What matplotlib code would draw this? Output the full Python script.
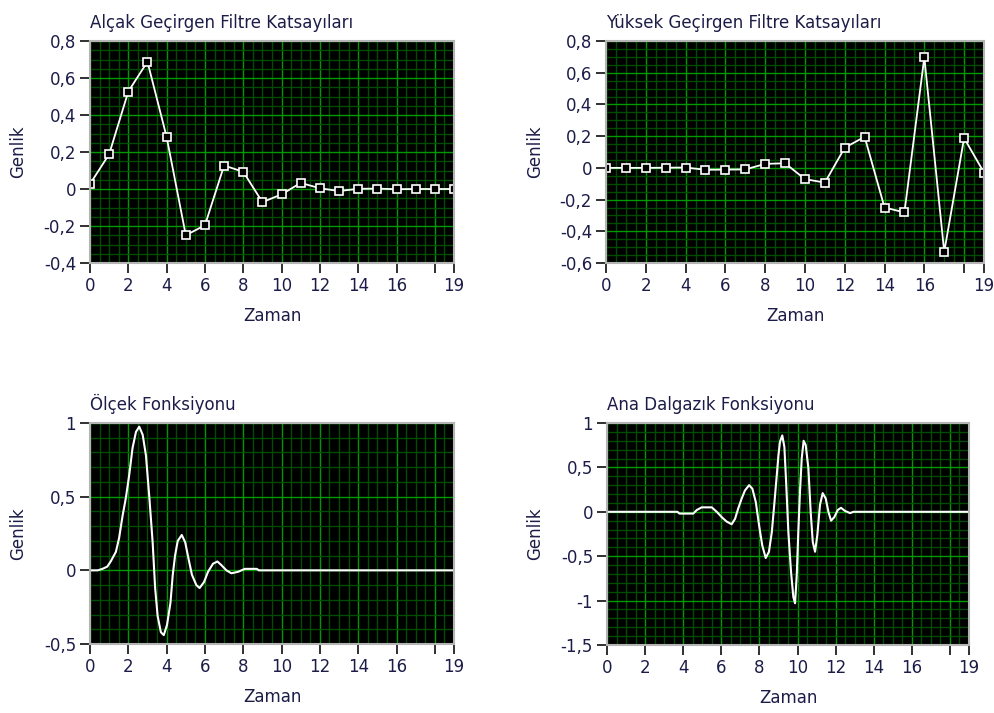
"""db10 wavelet panels in a LabVIEW-like look: filter taps, scaling and wavelet functions."""
import numpy as np

import matplotlib

matplotlib.use("Agg")
import matplotlib.pyplot as plt
from matplotlib.ticker import FixedLocator, FuncFormatter, MultipleLocator

OUT = "out.png"
TXT = "#1c1c48"
MAJ, MIN = "#009a00", "#004c00"
FS = 12

# filter taps (index 0..19)
taps = np.arange(20)
lowpass = [0.027, 0.188, 0.527, 0.688, 0.281, -0.250, -0.196, 0.127, 0.093, -0.071,
           -0.029, 0.033, 0.004, -0.011, 0.001, 0.002, -0.001, 0.0, 0.0, 0.0]
highpass = [0.0, 0.0, 0.0, 0.001, 0.002, -0.012, -0.011, -0.010, 0.025, 0.029,
            -0.071, -0.093, 0.127, 0.196, -0.250, -0.281, 0.697, -0.530, 0.188, -0.030]

# scaling function
phi_t = [0, 0.4, 0.65, 0.9, 1.08, 1.35, 1.52, 1.7, 1.87, 2.05, 2.22, 2.4, 2.57, 2.75,
         2.92, 3.1, 3.27, 3.4, 3.53, 3.7, 3.85, 4.02, 4.2, 4.32, 4.44, 4.58, 4.79, 4.97,
         5.14, 5.32, 5.55, 5.72, 5.95, 6.16, 6.42, 6.65, 6.86, 7.12, 7.38, 7.73, 8.08,
         8.7, 8.82, 19]
phi_y = [0, 0, 0.01, 0.025, 0.06, 0.125, 0.22, 0.37, 0.49, 0.65, 0.83, 0.94, 0.975, 0.92,
         0.78, 0.49, 0.19, -0.12, -0.31, -0.42, -0.44, -0.37, -0.22, -0.03, 0.10, 0.20,
         0.24, 0.19, 0.08, -0.03, -0.10, -0.12, -0.08, -0.01, 0.045, 0.06, 0.035, 0.0,
         -0.02, -0.01, 0.01, 0.01, 0.0, 0.0]

# wavelet function
psi_t = [0, 3.7, 3.8, 4.53, 4.71, 4.97, 5.5, 5.76, 6.02, 6.28, 6.54, 6.72, 6.89, 7.07,
         7.24, 7.46, 7.63, 7.81, 7.98, 8.15, 8.33, 8.5, 8.65, 8.79, 8.91, 9.0, 9.08, 9.2,
         9.31, 9.4, 9.52, 9.66, 9.78, 9.87, 9.96, 10.04, 10.13, 10.22, 10.32, 10.43,
         10.57, 10.69, 10.8, 10.92, 11.04, 11.18, 11.32, 11.48, 11.62, 11.76, 11.93,
         12.11, 12.28, 12.49, 12.76, 12.93, 19]
psi_y = [0, 0, -0.02, -0.02, 0.02, 0.05, 0.05, 0, -0.06, -0.11, -0.14, -0.08, 0.04, 0.15,
         0.24, 0.30, 0.26, 0.11, -0.15, -0.38, -0.52, -0.45, -0.23, 0.11, 0.41, 0.64,
         0.79, 0.86, 0.73, 0.34, -0.23, -0.68, -0.96, -1.03, -0.71, -0.23, 0.23, 0.60,
         0.80, 0.75, 0.49, 0, -0.34, -0.45, -0.26, 0.08, 0.21, 0.15, 0, -0.10, -0.06,
         0.02, 0.045, 0.01, -0.015, 0, 0]

X_TICKS = [0, 2, 4, 6, 8, 10, 12, 14, 16, 18, 19]


def px_axes(fig, l, t, r, b):
    W, H = 995, 713
    return fig.add_axes([l / W, 1 - b / H, (r - l) / W, (b - t) / H])


def style(ax, title, ylim, ymaj, ymin, ylab_x):
    ax.set_facecolor("black")
    ax.set_xlim(0, 19)
    ax.set_ylim(*ylim)
    ax.xaxis.set_major_locator(FixedLocator(X_TICKS))
    ax.xaxis.set_major_formatter(FuncFormatter(lambda v, _: "" if v == 18 else f"{v:g}"))
    ax.xaxis.set_minor_locator(MultipleLocator(0.5))
    ax.yaxis.set_major_locator(MultipleLocator(ymaj))
    ax.yaxis.set_minor_locator(MultipleLocator(ymin))
    ax.yaxis.set_major_formatter(FuncFormatter(lambda v, _: f"{v:g}".replace(".", ",")))
    ax.grid(which="major", color=MAJ, lw=1.0)
    ax.grid(which="minor", color=MIN, lw=1.0)
    ax.tick_params(which="major", length=7, width=1.3, color="#202020",
                   labelsize=FS, labelcolor=TXT, pad=3)
    ax.tick_params(which="minor", length=0)
    for s in ax.spines.values():
        s.set_color("#b4b4b4")
        s.set_linewidth(1.5)
    ax.set_title(title, loc="left", fontsize=FS, color=TXT, pad=9)
    ax.set_xlabel("Zaman", fontsize=FS, color=TXT, va="top")
    ax.set_ylabel("Genlik", fontsize=FS, color=TXT)
    ax.xaxis.set_label_coords(0.5, -0.2)
    ax.yaxis.set_label_coords(ylab_x, 0.5)


def main() -> None:
    fig = plt.figure(figsize=(9.95, 7.13), dpi=100)

    ax1 = px_axes(fig, 90, 41, 454, 263)
    style(ax1, "Alçak Geçirgen Filtre Katsayıları", (-0.4, 0.8), 0.2, 0.05, -0.172)
    ax1.plot(taps, lowpass, "-s", color="white", lw=1.3, ms=6, mfc="black",
             mec="white", mew=1.2)

    ax2 = px_axes(fig, 606, 41, 984, 263)
    style(ax2, "Yüksek Geçirgen Filtre Katsayıları", (-0.6, 0.8), 0.2, 0.05, -0.165)
    ax2.plot(taps, highpass, "-s", color="white", lw=1.3, ms=6, mfc="black",
             mec="white", mew=1.2)

    ax3 = px_axes(fig, 90, 423, 454, 644)
    style(ax3, "Ölçek Fonksiyonu", (-0.5, 1.0), 0.5, 0.1, -0.172)
    ax3.plot(phi_t, phi_y, color="white", lw=1.5)

    ax4 = px_axes(fig, 607, 423, 969, 645)
    style(ax4, "Ana Dalgazık Fonksiyonu", (-1.5, 1.0), 0.5, 0.1, -0.175)
    ax4.plot(psi_t, psi_y, color="white", lw=1.5)

    fig.savefig(OUT)


if __name__ == "__main__":
    main()
